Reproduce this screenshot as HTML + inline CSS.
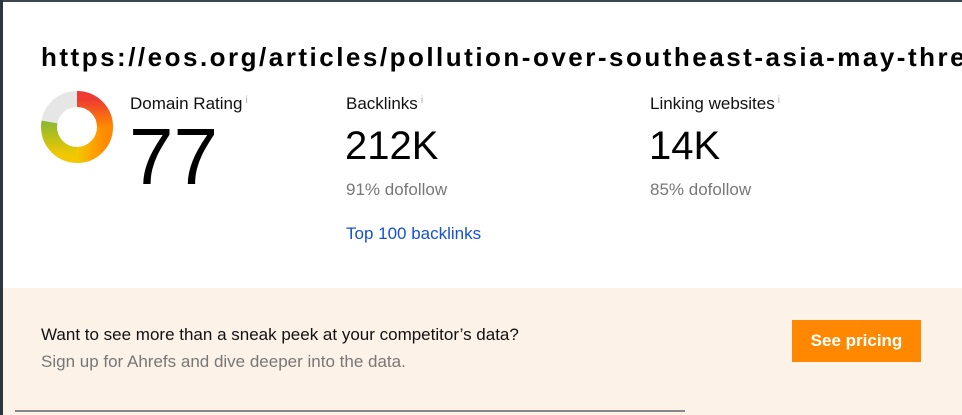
<!DOCTYPE html>
<html><head><meta charset="utf-8">
<style>
html,body{margin:0;padding:0;width:962px;height:415px;overflow:hidden;background:#fff;font-family:"Liberation Sans",sans-serif;}
.frame{position:absolute;left:0;top:0;width:962px;height:415px;background:#fff;overflow:hidden;}
.edge-l{position:absolute;left:0;top:0;width:3px;height:415px;background:#2b3640;}
.edge-t{position:absolute;left:0;top:0;width:962px;height:2px;background:#3a4650;}
.title{position:absolute;left:41px;top:42px;width:921px;overflow:hidden;font-size:26px;font-weight:bold;color:#000;white-space:nowrap;letter-spacing:2.5px;}
.lbl{position:absolute;font-size:17px;color:#111;}
.lbl sup{font-size:10px;color:#aaa;vertical-align:6px;margin-left:3px;}
.big{position:absolute;font-size:40px;color:#000;}
.sub{position:absolute;font-size:17px;color:#777;}
.link{position:absolute;font-size:17px;color:#1650d6;}
.band{position:absolute;left:3px;top:288px;width:959px;height:127px;background:#fdf2e7;}
.btn{position:absolute;left:792px;top:320px;width:129px;height:42px;background:#ff8800;color:#fff;font-weight:bold;font-size:17px;line-height:42px;text-align:center;}
.bline{position:absolute;left:15px;top:410px;width:670px;height:2px;background:#888;}
</style></head><body>
<div class="frame">
<div class="edge-t"></div>
<div class="edge-l"></div>
<div class="title">https://eos.org/articles/pollution-over-southeast-asia-may-threaten-air-quality</div>
<svg style="position:absolute;left:40px;top:90px" width="74" height="74" viewBox="0 0 74 74">
<defs>
<linearGradient id="g1" x1="0" y1="0" x2="0" y2="1"><stop offset="0" stop-color="#ee3a32"/><stop offset="1" stop-color="#ff8a00"/></linearGradient>
<linearGradient id="g2" x1="1" y1="0" x2="0" y2="0"><stop offset="0" stop-color="#ff8a00"/><stop offset="1" stop-color="#f5c800"/></linearGradient>
<linearGradient id="g3" x1="0" y1="1" x2="0" y2="0"><stop offset="0" stop-color="#f3c800"/><stop offset="1" stop-color="#8ab830"/></linearGradient>
</defs>
<circle cx="37" cy="37" r="28" fill="none" stroke="#e6e6e6" stroke-width="16"/>
<path d="M37 9 A28 28 0 0 1 65 37" fill="none" stroke="url(#g1)" stroke-width="16"/>
<path d="M65 37 A28 28 0 0 1 37 65" fill="none" stroke="url(#g2)" stroke-width="16"/>
<path d="M37 65 A28 28 0 0 1 9.5 32" fill="none" stroke="url(#g3)" stroke-width="16"/>
</svg>
<div class="lbl" style="left:130px;top:94px">Domain Rating<sup>i</sup></div>
<div class="big" style="left:129px;top:112px;font-size:80px;line-height:90px">77</div>
<div class="lbl" style="left:346px;top:94px">Backlinks<sup>i</sup></div>
<div class="big" style="left:345px;top:124px">212K</div>
<div class="sub" style="left:346px;top:180px">91% dofollow</div>
<div class="link" style="left:346px;top:224px">Top 100 backlinks</div>
<div class="lbl" style="left:650px;top:94px">Linking websites<sup>i</sup></div>
<div class="big" style="left:649px;top:124px">14K</div>
<div class="sub" style="left:650px;top:180px">85% dofollow</div>
<div class="band"></div>
<div class="lbl" style="left:41px;top:325px">Want to see more than a sneak peek at your competitor’s data?</div>
<div class="sub" style="left:41px;top:352px">Sign up for Ahrefs and dive deeper into the data.</div>
<div class="btn">See pricing</div>
<div class="bline"></div>
</div>
</body></html>
